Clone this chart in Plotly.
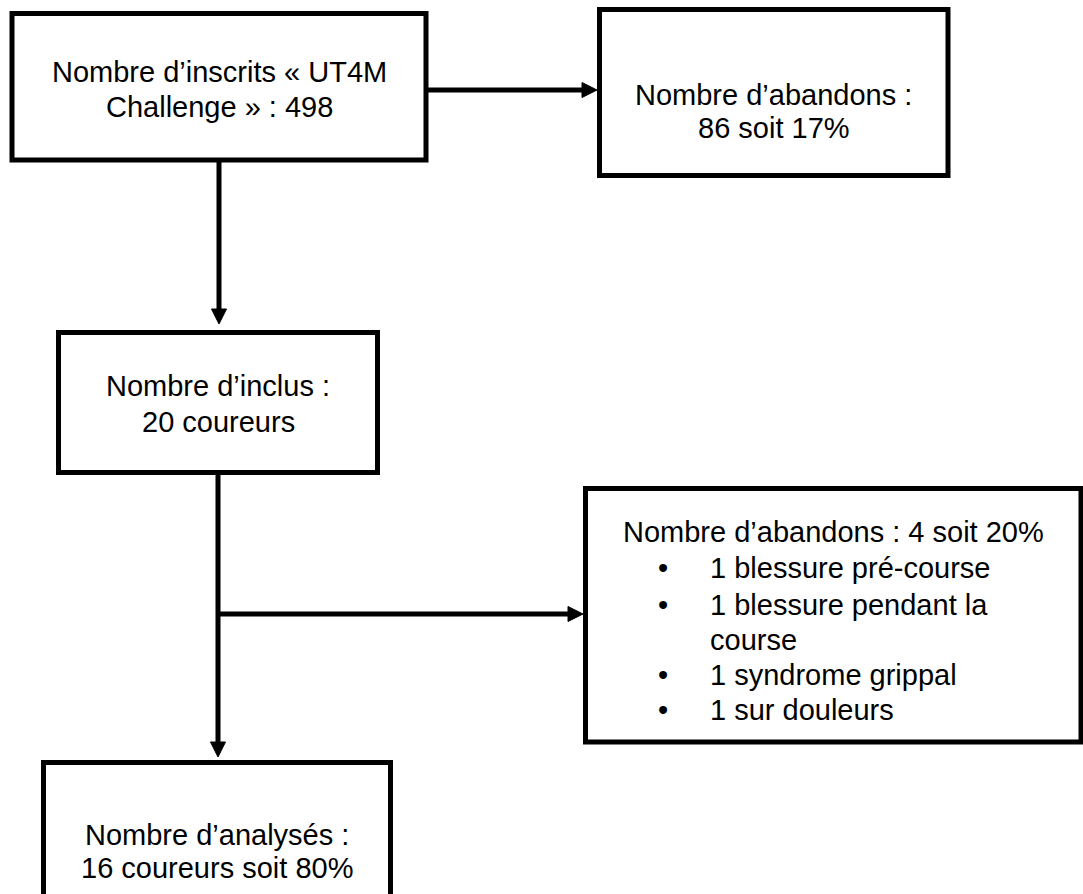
import plotly.graph_objects as go

# ---- content (text of each box) ----
box_inscrits = ["Nombre d’inscrits « UT4M", "Challenge » : 498"]
box_abandons1 = ["Nombre d’abandons :", "86 soit 17%"]
box_inclus = ["Nombre d’inclus :", "20 coureurs"]
box_abandons2_title = ["Nombre d’abandons : 4 soit 20%"]
box_abandons2_items = [["1 blessure pré-course"], ["1 blessure pendant la", "course"],
                       ["1 syndrome grippal"], ["1 sur douleurs"]]
box_analyses = ["Nombre d’analysés :", "16 coureurs soit 80%"]

# ---- layout geometry (pixel space) ----
W, H = 1083, 894
LW = 5
FONT = dict(family="Liberation Sans, Arial, Helvetica, sans-serif", size=29, color="black")

boxes = {
    "inscrits": dict(x0=12, x1=426, y0=13.5, y1=160),
    "ab1": dict(x0=599.5, x1=948, y0=9.5, y1=175.5),
    "inclus": dict(x0=58.5, x1=377.5, y0=332.5, y1=472.5),
    "ab2": dict(x0=585.5, x1=1081, y0=488.5, y1=742),
    "analyses": dict(x0=43.5, x1=390.5, y0=762.5, y1=920),
}

shapes = []
for b in boxes.values():
    shapes.append(dict(type="rect", xref="x", yref="y", x0=b["x0"], x1=b["x1"],
                       y0=b["y0"], y1=b["y1"], line=dict(color="black", width=LW),
                       fillcolor="rgba(0,0,0,0)"))

HEAD_L, HEAD_W = 15, 7.5


def arrow(x0, y0, x1, y1):
    if x0 == x1:
        d = 1 if y1 > y0 else -1
        ys = y1 - d * HEAD_L
        shapes.append(dict(type="line", x0=x0, x1=x1, y0=y0, y1=ys + d * 1,
                           line=dict(color="black", width=LW)))
        shapes.append(dict(type="path",
                           path=f"M{x1 - HEAD_W},{ys} L{x1 + HEAD_W},{ys} L{x1},{y1} Z",
                           fillcolor="black", line=dict(color="black", width=1)))
    else:
        d = 1 if x1 > x0 else -1
        xs = x1 - d * HEAD_L
        shapes.append(dict(type="line", x0=x0, x1=xs + d * 1, y0=y0, y1=y1,
                           line=dict(color="black", width=LW)))
        shapes.append(dict(type="path",
                           path=f"M{xs},{y1 - HEAD_W} L{xs},{y1 + HEAD_W} L{x1},{y1} Z",
                           fillcolor="black", line=dict(color="black", width=1)))


def line(x0, y0, x1, y1):
    shapes.append(dict(type="line", x0=x0, x1=x1, y0=y0, y1=y1,
                       line=dict(color="black", width=LW)))


arrow(426, 90, 597, 90)
arrow(219, 160, 219, 324)
line(218, 472.5, 218, 612)
arrow(218, 612, 218, 757)
arrow(218, 614, 583, 614)

annotations = []


def text(x, y, s, xanchor="center"):
    annotations.append(dict(x=x, y=y, xref="x", yref="y", text=s, showarrow=False,
                            xanchor=xanchor, yanchor="middle", font=FONT))


def lines(x, ys, items, xanchor="center"):
    for yy, s in zip(ys, items):
        text(x, yy, s, xanchor)


lines(219, [72, 107], box_inscrits)
lines(773.5, [95, 128], box_abandons1)
lines(218, [386, 422], box_inclus)
lines(217, [835, 868], box_analyses)
lines(833.5, [532], box_abandons2_title)

item_y = [568, 605, 640, 675, 710]
k = 0
for item in box_abandons2_items:
    text(663, item_y[k], "•")
    for part in item:
        text(708, item_y[k], part, xanchor="left")
        k += 1

fig = go.Figure()
fig.update_layout(
    width=W, height=H, margin=dict(l=0, r=0, t=0, b=0),
    paper_bgcolor="white", plot_bgcolor="white",
    xaxis=dict(range=[0, W], visible=False, fixedrange=True),
    yaxis=dict(range=[H, 0], visible=False, fixedrange=True),
    shapes=shapes, annotations=annotations, showlegend=False,
)
fig.write_html("out.html", config={"displayModeBar": False},
               post_script="document.body.style.margin='0px';document.body.style.overflow='hidden';")
